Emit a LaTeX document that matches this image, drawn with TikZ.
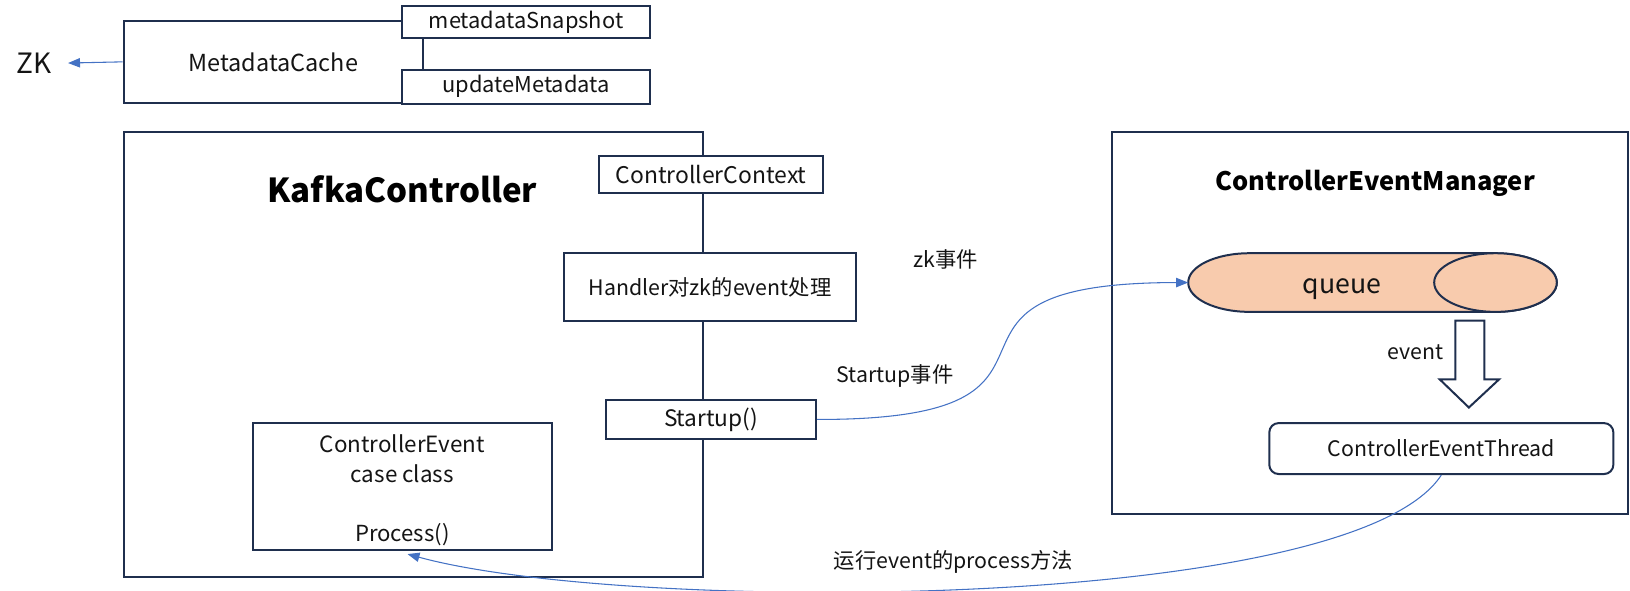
\documentclass[tikz,border=0pt]{standalone}
\usepackage{fontspec}
\setmainfont{Noto Sans CJK SC}
\usetikzlibrary{arrows.meta,fit}
\definecolor{navy}{HTML}{1F2F4E}
\definecolor{conblue}{HTML}{4472C4}
\definecolor{peach}{HTML}{F8CBAD}
\definecolor{txt}{HTML}{141414}
\begin{document}
\begin{tikzpicture}[x=0.78pt,y=-0.78pt,
  frame/.style={draw=navy, line width=1.5pt, inner sep=0pt},
  box/.style={frame, fill=white},
  lbl/.style={inner sep=0pt, text=txt, font=\fontsize{16}{19}\selectfont},
  fs/.style={font=\fontsize{#1}{#1}\selectfont},
  con/.style={draw=conblue, line width=0.8pt, -{Triangle[length=9pt,width=7pt]}},
  shapeline/.style={draw=navy, line width=1.5pt},
]
\useasboundingbox (0,0) rectangle (1568,568);

% KafkaController
\node[frame, fit={(119,127)(676,555)}] (kc) {};
\node[inner sep=0pt, font=\bfseries\fontsize{24.8}{28}\selectfont] (kct) at (387,182) {KafkaController};
\node[box, fit={(576,150)(792,186)}, label={[lbl,fs=17.2]center:ControllerContext}] (cc) {};
\node[box, fit={(543,243)(823,309)}, label={[lbl]center:Handler对zk的event处理}] (h) {};
\node[box, fit={(583,385)(785,422)}, label={[lbl,fs=17]center:Startup()}] (st) {};
\node[frame, fit={(243,407)(531,529)}] (ce) {};
\node[lbl, fs=16.8] (ce1) at (387,427) {ControllerEvent};
\node[lbl, fs=16.8] (ce2) at (387,456) {case class};
\node[lbl, fs=16.6] (proc) at (387,514) {Process()};
\coordinate (pin) at (392,533);

% MetadataCache
\node[frame, fit={(119,20)(407,99)}, label={[lbl,fs=17.6]center:MetadataCache}] (mc) {};
\node[box, fit={(387,6)(625,37)}, label={[lbl,fs=16.4]center:metadataSnapshot}] (ms) {};
\node[box, fit={(387,67)(625,100)}, label={[lbl,fs=16.4]center:updateMetadata}] (um) {};
\node[inner sep=0pt, text=txt, font=\fontsize{21}{24}\selectfont] (zk) at (33,61) {ZK};
\draw[con, shorten >=12pt] (mc.west) -- (zk.east);

% ControllerEventManager
\node[frame, fit={(1070,127)(1566,494)}] (cem) {};
\node[inner sep=0pt, font=\bfseries\fontsize{19.1}{22}\selectfont] (cemt) at (1323,176) {ControllerEventManager};
\draw[shapeline, fill=peach] (1202,300) arc[start angle=270,end angle=90,x radius=46pt,y radius=22pt]
  -- (1438.6,243.6) arc[start angle=90,end angle=-90,x radius=46pt,y radius=22pt] -- cycle;
\draw[shapeline, fill=peach] (1438.6,271.8) ellipse[x radius=46pt, y radius=22pt];
\node[inner sep=0pt, text=txt, font=\fontsize{20}{24}\selectfont] (queue) at (1291,278) {queue};
\coordinate (qw) at (1143,271.8);
\draw[shapeline, fill=white] (1400,308.5) -- (1428,308.5) -- (1428,365) -- (1442,365) -- (1413,392)
  -- (1385,365) -- (1400,365) -- cycle;
\node[lbl] (ev) at (1362,339) {event};
\node[box, rounded corners=7pt, fit={(1221,407)(1552,456)}, label={[lbl]center:ControllerEventThread}] (cet) {};

% connectors and labels
\node[lbl] (l1) at (910,250) {zk事件};
\node[lbl] (l2) at (861,362) {Startup事件};
\node[lbl] (l3) at (917,541) {运行event的process方法};
\draw[con] (st.east) .. controls (1080,404) and (850,272) .. (qw);
\draw[con] (cet.south) .. controls (1300,590) and (600,590) .. (pin);
\end{tikzpicture}
\end{document}
